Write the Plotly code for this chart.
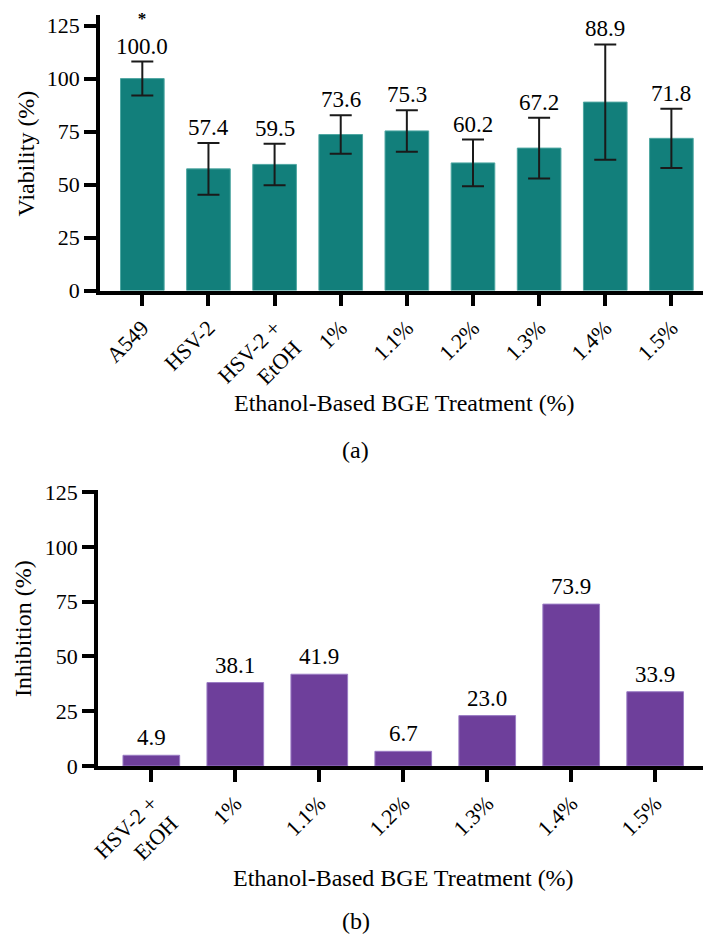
import plotly.graph_objects as go

# ---- data ----
cats_a = ["A549", "HSV-2", "HSV-2 +<br>EtOH", "1%", "1.1%", "1.2%", "1.3%", "1.4%", "1.5%"]
viability = [100.0, 57.4, 59.5, 73.6, 75.3, 60.2, 67.2, 88.9, 71.8]
viability_err = [8.0, 12.2, 9.8, 9.1, 9.8, 11.0, 14.3, 27.2, 14.0]
significance = ["*", "", "", "", "", "", "", "", ""]

cats_b = ["HSV-2 +<br>EtOH", "1%", "1.1%", "1.2%", "1.3%", "1.4%", "1.5%"]
inhibition = [4.9, 38.1, 41.9, 6.7, 23.0, 73.9, 33.9]

y_ticks = [0, 25, 50, 75, 100, 125]
x_title = "Ethanol-Based BGE Treatment (%)"

TEAL = "#127f7b"
PURPLE = "#6e3f9b"
FONT = "Liberation Serif"

W, H = 711.0, 935.0
OFF = 8.0  # page body margin


def px(p):
    return (p - OFF) / W


def py(p):
    return 1 - (p - OFF) / H


xa = list(range(len(cats_a)))
xb = list(range(len(cats_b)))

fig = go.Figure()
fig.add_trace(go.Bar(
    x=xa, y=viability, width=0.66, marker=dict(color=TEAL, line=dict(color="#4fa7a2", width=1)),
    error_y=dict(type="data", array=viability_err, visible=True, color="#1a1a1a", thickness=2, width=11),
    xaxis="x", yaxis="y", showlegend=False,
))
fig.add_trace(go.Bar(
    x=xb, y=inhibition, width=0.675, marker=dict(color=PURPLE, line=dict(color="#9a7cc4", width=1)),
    xaxis="x2", yaxis="y2", showlegend=False,
))

ann = []
for i, (v, e, s) in enumerate(zip(viability, viability_err, significance)):
    txt = f"{v:.1f}"
    if s:
        txt = f"<span style='font-size:17px'><b>{s}</b></span><br>" + txt
    ann.append(dict(x=i, y=v + e, xref="x", yref="y", text=txt, showarrow=False,
                    yanchor="bottom", yshift=1, font=dict(family=FONT, size=23, color="black")))
for i, v in enumerate(inhibition):
    ann.append(dict(x=i, y=v, xref="x2", yref="y2", text=f"{v:.1f}", showarrow=False,
                    yanchor="bottom", yshift=3, font=dict(family=FONT, size=23, color="black")))

ann += [
    dict(x=px(404.5), y=py(403), xref="paper", yref="paper", text=x_title, showarrow=False,
         yanchor="middle", font=dict(family=FONT, size=24, color="black")),
    dict(x=px(355.5), y=py(450), xref="paper", yref="paper", text="(a)", showarrow=False,
         yanchor="middle", font=dict(family=FONT, size=24, color="black")),
    dict(x=px(403.5), y=py(878), xref="paper", yref="paper", text=x_title, showarrow=False,
         yanchor="middle", font=dict(family=FONT, size=24, color="black")),
    dict(x=px(355.5), y=py(921), xref="paper", yref="paper", text="(b)", showarrow=False,
         yanchor="middle", font=dict(family=FONT, size=24, color="black")),
    dict(x=px(25), y=py(153.5), xref="paper", yref="paper", text="Viability (%)", showarrow=False,
         textangle=-90, xanchor="center", yanchor="middle", font=dict(family=FONT, size=24, color="black")),
    dict(x=px(23), y=py(629), xref="paper", yref="paper", text="Inhibition (%)", showarrow=False,
         textangle=-90, xanchor="center", yanchor="middle", font=dict(family=FONT, size=24, color="black")),
]

axis_common = dict(showline=True, linecolor="black", linewidth=3.5, ticks="outside", ticklen=12,
                   tickwidth=3.5, tickcolor="black", showgrid=False, zeroline=False, automargin=False,
                   tickfont=dict(family=FONT, size=22, color="black"))

# pixel targets: top plot area x 100..719 (cat 0 at 142.3, step 66.1); bottom 98..719 (cat 0 at 151.3, step 84)
fig.update_layout(
    template="none",
    width=711, height=935, margin=dict(l=0, r=0, t=0, b=0, autoexpand=False),
    paper_bgcolor="white", plot_bgcolor="white",
    font=dict(family=FONT, color="black"),
    xaxis=dict(domain=[px(100), 1], anchor="y", range=[-0.64, 8.72], tickmode="array",
               tickvals=xa, ticktext=cats_a, tickangle=-45, **axis_common),
    yaxis=dict(domain=[py(290.5), py(15)], anchor="x", range=[0, 130], tickmode="array",
               tickvals=y_ticks, **axis_common),
    xaxis2=dict(domain=[px(98), 1], anchor="y2", range=[-0.635, 6.76], tickmode="array",
                tickvals=xb, ticktext=cats_b, tickangle=-45, **axis_common),
    yaxis2=dict(domain=[py(766), py(490)], anchor="x2", range=[0, 126], tickmode="array",
                tickvals=y_ticks, **axis_common),
    annotations=ann,
)

fig.write_html("out.html")
